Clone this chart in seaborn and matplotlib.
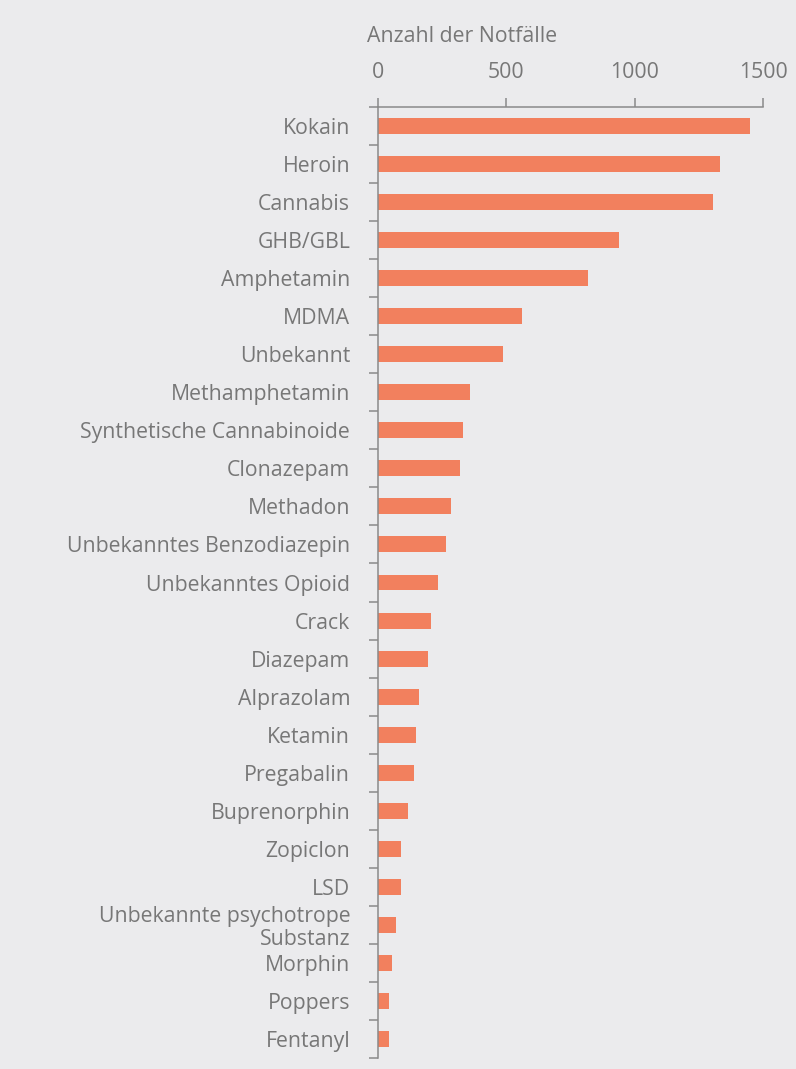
import matplotlib
matplotlib.use("Agg")
import matplotlib.pyplot as plt
import seaborn as sns
import pandas as pd
import numpy as np

substances = [
    "Kokain", "Heroin", "Cannabis", "GHB/GBL", "Amphetamin", "MDMA",
    "Unbekannt", "Methamphetamin", "Synthetische Cannabinoide", "Clonazepam",
    "Methadon", "Unbekanntes Benzodiazepin", "Unbekanntes Opioid", "Crack",
    "Diazepam", "Alprazolam", "Ketamin", "Pregabalin", "Buprenorphin",
    "Zopiclon", "LSD", "Unbekannte psychotrope\nSubstanz", "Morphin",
    "Poppers", "Fentanyl",
]
emergencies = [
    1450, 1332, 1305, 939, 816, 562, 488, 357, 332, 318,
    285, 266, 233, 206, 195, 161, 148, 141, 115,
    89, 89, 70, 56, 43, 43,
]
x_ticks = [0, 500, 1000, 1500]
x_label = "Anzahl der Notfälle"

BG = "#ebebed"
BAR = "#f2805e"
TXT = "#777777"
AXC = "#8a8a8a"
FS = 15.3

sns.set_theme(style="white")
plt.rcParams["font.family"] = ["Open Sans", "DejaVu Sans"]

df = pd.DataFrame({"substance": substances, "n": emergencies})

fig = plt.figure(figsize=(7.96, 10.69), dpi=100, facecolor=BG)
ax = fig.add_axes([378 / 796, 1 - 1058 / 1069, (763.3 - 378) / 796, (1058 - 107) / 1069])
ax.set_facecolor(BG)

sns.barplot(data=df, x="n", y="substance", orient="h", color=BAR,
            saturation=1, width=0.42, linewidth=0, ax=ax)

ax.set_xlim(0, 1500)
ax.set_ylim(len(substances) - 0.5, -0.5)
ax.set_xlabel("")
ax.set_ylabel("")

# x axis on top
ax.xaxis.tick_top()
ax.set_xticks(x_ticks)
ax.set_xticklabels([str(v) for v in x_ticks])
ax.tick_params(axis="x", which="major", direction="out", length=6.5, width=1.1,
               color=AXC, labelsize=FS, labelcolor=TXT, pad=11)

# category labels, tick marks between categories
ax.tick_params(axis="y", which="major", length=0, labelsize=FS,
               labelcolor=TXT, pad=20)
ax.set_yticks(np.arange(-0.5, len(substances)), minor=True)
ax.tick_params(axis="y", which="minor", direction="out", length=6.5,
               width=1.1, color=AXC, left=True)
for lbl in ax.get_yticklabels():
    lbl.set_linespacing(1.12)

for side in ["right", "bottom"]:
    ax.spines[side].set_visible(False)
for side in ["left", "top"]:
    ax.spines[side].set_visible(True)
    ax.spines[side].set_color(AXC)
    ax.spines[side].set_linewidth(1.1)

fig.text(367 / 796, 1 - 37 / 1069, x_label, ha="left", va="center",
         fontsize=FS, color=TXT)

fig.savefig("out.png", dpi=100, facecolor=BG)
